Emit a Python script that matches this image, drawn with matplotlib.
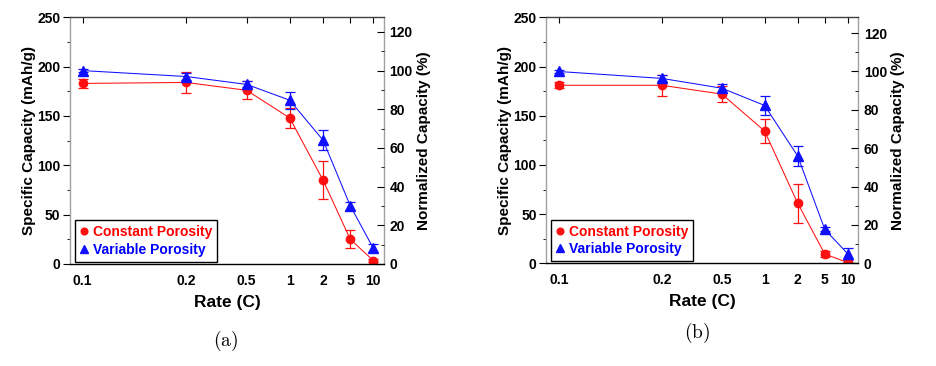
import numpy as np
import matplotlib
matplotlib.use("Agg")
import matplotlib.pyplot as plt
from matplotlib.ticker import MultipleLocator, FixedLocator, NullLocator

plt.rcParams['font.family'] = ['Liberation Sans', 'DejaVu Sans']
plt.rcParams['font.weight'] = 'bold'
plt.rcParams['mathtext.fontset'] = 'cm'

rate_labels = ['0.1', '0.2', '0.5', '1', '2', '5', '10']

# Panel (a)
a_const = [183, 184, 176, 148, 85, 25, 3.5]
a_const_err = [4.5, 11, 9, 10, 19, 9, 1.5]
a_var = [196, 190, 182, 166, 125.5, 59, 16]
a_var_err = [1.5, 4, 3, 8.5, 10, 4, 4]

# Panel (b)
b_const = [181, 181, 172, 134.5, 61, 9.5, 0.8]
b_const_err = [3, 10.5, 8, 12.5, 20, 3, 1]
b_var = [195, 188, 178, 160.5, 109, 34.5, 9.8]
b_var_err = [1.5, 3, 4, 9.5, 10, 2, 6]

panels = [
    ('(a)', a_const, a_const_err, a_var, a_var_err, [70/936, 0.2787, 314/936, 0.674], (226, 341)),
    ('(b)', b_const, b_const_err, b_var, b_var_err, [546.3/936, 0.2805, 312/936, 0.672], (697, 333)),
]

fig = plt.figure(figsize=(9.36, 3.66), dpi=100)

for cap, cv, ce, vv, ve, rect, cpos in panels:
    ax = fig.add_axes(rect)
    x = np.arange(1, len(rate_labels) + 1)
    ax.set_xscale('log')
    ax.errorbar(x, cv, yerr=ce, color='#ff1010', marker='o', ms=6, lw=0.75,
                elinewidth=0.9, capsize=3.5, capthick=0.9, label='Constant Porosity')
    ax.errorbar(x, vv, yerr=ve, color='#1010ff', marker='^', ms=6.5, lw=0.75,
                elinewidth=0.9, capsize=3.5, capthick=0.9, label='Variable Porosity')
    ax.set_xlim(0.919, 7.52)
    ax.set_ylim(0, 250)
    ax.xaxis.set_major_locator(FixedLocator(x))
    ax.xaxis.set_minor_locator(NullLocator())
    ax.set_xticklabels(rate_labels)
    ax.yaxis.set_major_locator(MultipleLocator(50))
    ax.yaxis.set_minor_locator(MultipleLocator(25))
    ax.tick_params(axis='x', which='major', direction='in', length=4, top=True, bottom=False,
                   labelsize=10, pad=7)
    ax.tick_params(axis='y', which='major', direction='out', length=5, labelsize=10, pad=2)
    ax.tick_params(axis='y', which='minor', direction='out', length=2.5)
    for lab in ax.get_xticklabels() + ax.get_yticklabels():
        lab.set_fontweight('bold')
    ax.spines['left'].set_color('#a0a0a0')
    ax.spines['right'].set_color('#a0a0a0')
    ax.spines['top'].set_color('#404040')
    ax.spines['bottom'].set_color('black')
    for s in ax.spines.values():
        s.set_linewidth(1.0)
    ax.set_xlabel('Rate (C)', fontsize=12.5, fontweight='bold', labelpad=5)
    ax.set_ylabel('Specific Capacity (mAh/g)', fontsize=11, fontweight='bold', labelpad=1)

    ax2 = ax.twinx()
    ax2.set_ylim(0, 250 / vv[0] * 100)
    ax2.yaxis.set_major_locator(MultipleLocator(20))
    ax2.yaxis.set_minor_locator(MultipleLocator(10))
    ax2.tick_params(axis='y', which='major', direction='in', length=5, labelsize=10, pad=4)
    ax2.tick_params(axis='y', which='minor', direction='in', length=2.5)
    for lab in ax2.get_yticklabels():
        lab.set_fontweight('bold')
    for s in ax2.spines.values():
        s.set_visible(False)
    ax2.set_ylabel('Normalized Capacity (%)', fontsize=11, fontweight='bold', labelpad=3)

    h, l = ax.get_legend_handles_labels()
    leg = ax.legend([hh[0] for hh in h], l, loc='lower left', bbox_to_anchor=(0.015, 0.01),
                    borderaxespad=0, fancybox=False, framealpha=1, edgecolor='black',
                    prop={'size': 10, 'weight': 'bold'}, handlelength=0.6,
                    handletextpad=0.35, borderpad=0.35, labelspacing=0.25, markerscale=0.8)
    leg.get_frame().set_linewidth(1.0)
    for t, c in zip(leg.get_texts(), ['#ff0000', '#0000ff']):
        t.set_color(c)
    for hh in leg.legend_handles:
        hh.set_linestyle('none')

    fig.text(cpos[0] / 936, 1 - cpos[1] / 366, r'$\mathrm{' + cap + '}$', fontsize=14,
             ha='center', va='center')

fig.savefig('out.png', dpi=100)
